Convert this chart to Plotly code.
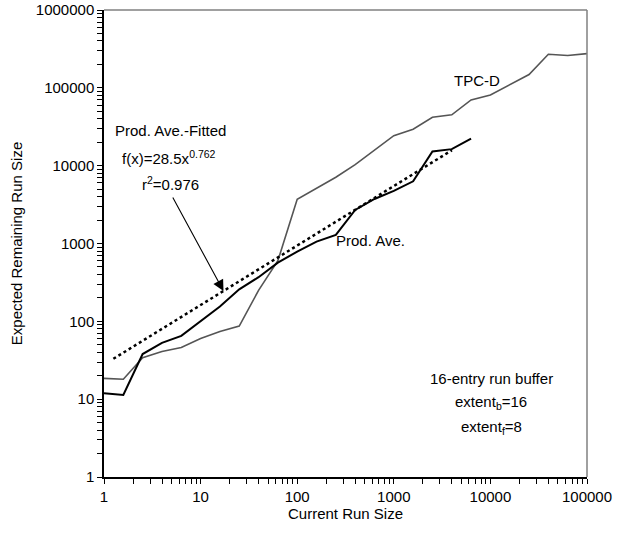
import plotly.graph_objects as go

# x positions: 10^(k/5)
x_tpc = [1, 1.585, 2.512, 3.981, 6.31, 10, 15.85, 25.12, 39.81, 63.1, 100, 158.5, 251.2, 398.1, 631,
         1000, 1585, 2512, 3981, 6310, 10000, 15850, 25120, 39810, 63100, 100000]
y_tpc = [18.5, 18, 34, 41, 46, 60, 74, 87, 250, 600, 3700, 5140, 7100, 10300, 15900,
         24300, 29400, 41800, 45000, 70000, 81000, 110000, 148000, 270000, 260000, 275000]

x_prod = [1, 1.585, 2.512, 3.981, 6.31, 10, 15.85, 25.12, 39.81, 63.1, 100, 158.5, 251.2, 398.1, 631,
          1000, 1585, 2512, 3981, 6310]
y_prod = [11.9, 11.3, 38, 53, 65, 99, 155, 258, 369, 568, 787, 1057, 1290, 2700, 3730,
          4740, 6300, 15200, 16300, 22300]

x_fit = [1.25, 4000]
y_fit = [33, 15800]

x_ticklabels = ["1", "10", "100", "1000", "10000", "100000"]
y_ticklabels = ["1", "10", "100", "1000", "10000", "100000", "1000000"]

FONT = "Liberation Sans, Arial"
FS = 15


def log_ticks(labels):
    vals, texts = [], []
    for i, lab in enumerate(labels):
        vals.append(float(10 ** i))
        texts.append(lab)
        if i < len(labels) - 1:
            for m in range(2, 10):
                vals.append(float(m * 10 ** i))
                texts.append(" ")
    return vals, texts


xv, xt = log_ticks(x_ticklabels)
yv, yt = log_ticks(y_ticklabels)

fig = go.Figure()
fig.add_trace(go.Scatter(x=x_tpc, y=y_tpc, mode="lines",
                         line=dict(color="#555555", width=1.6), showlegend=False))
fig.add_trace(go.Scatter(x=x_fit, y=y_fit, mode="lines",
                         line=dict(color="black", width=2.5, dash="dot"), showlegend=False))
fig.add_trace(go.Scatter(x=x_prod, y=y_prod, mode="lines",
                         line=dict(color="black", width=2), showlegend=False))

L, R, T, B = 104, 587, 10, 477
W, H = 633, 536


def px(xp):
    return (xp - L) / (R - L)


def py(yp):
    return (B - yp) / (B - T)


texts = [
    ("Prod. Ave.-Fitted", 170, 130),
    ("f(x)=28.5x<sup>0.762</sup>", 169, 157),
    ("r<sup>2</sup>=0.976", 170, 183),
    ("TPC-D", 477, 80),
    ("Prod. Ave.", 370, 240),
    ("16-entry run buffer", 491, 378),
    ("extent<sub>b</sub>=16", 491, 402),
    ("extent<sub>f</sub>=8", 491, 427),
]
for t, xp, yp in texts:
    fig.add_annotation(text=t, x=px(xp), y=py(yp), xref="paper", yref="paper",
                       showarrow=False, xanchor="center", yanchor="middle",
                       font=dict(family=FONT, size=FS, color="black"))

# arrow
fig.add_annotation(x=px(223.5), y=py(291), xref="paper", yref="paper", text="",
                   showarrow=True, arrowhead=2, arrowsize=2, arrowwidth=1.1,
                   arrowcolor="black", ax=172 - 223.5, ay=196 - 291, axref="pixel", ayref="pixel")

# top/right frame
fig.add_shape(type="line", xref="paper", yref="paper", x0=0, x1=1, y0=1, y1=1,
              line=dict(color="#808080", width=1.5))
fig.add_shape(type="line", xref="paper", yref="paper", x0=1, x1=1, y0=0, y1=1,
              line=dict(color="#808080", width=1.5))

common = dict(type="log", showgrid=False, zeroline=False,
              showline=True, linecolor="black", linewidth=1.5,
              ticks="outside", ticklen=5, tickcolor="black", tickwidth=1.1,
              tickmode="array", tickangle=0, automargin=False,
              tickfont=dict(family=FONT, size=FS, color="black"))

fig.update_layout(
    width=W, height=H, margin=dict(l=L, r=W - R, t=T, b=H - B),
    plot_bgcolor="white", paper_bgcolor="white",
    xaxis=dict(range=[0, 5], tickvals=xv, ticktext=xt, **common,
               title=dict(text="Current Run Size", standoff=2,
                          font=dict(family=FONT, size=FS, color="black"))),
    yaxis=dict(range=[0, 6], tickvals=yv, ticktext=yt, **common,
               title=dict(text="Expected Remaining Run Size", standoff=10,
                          font=dict(family=FONT, size=FS, color="black"))),
)

fig.write_html("out.html")
